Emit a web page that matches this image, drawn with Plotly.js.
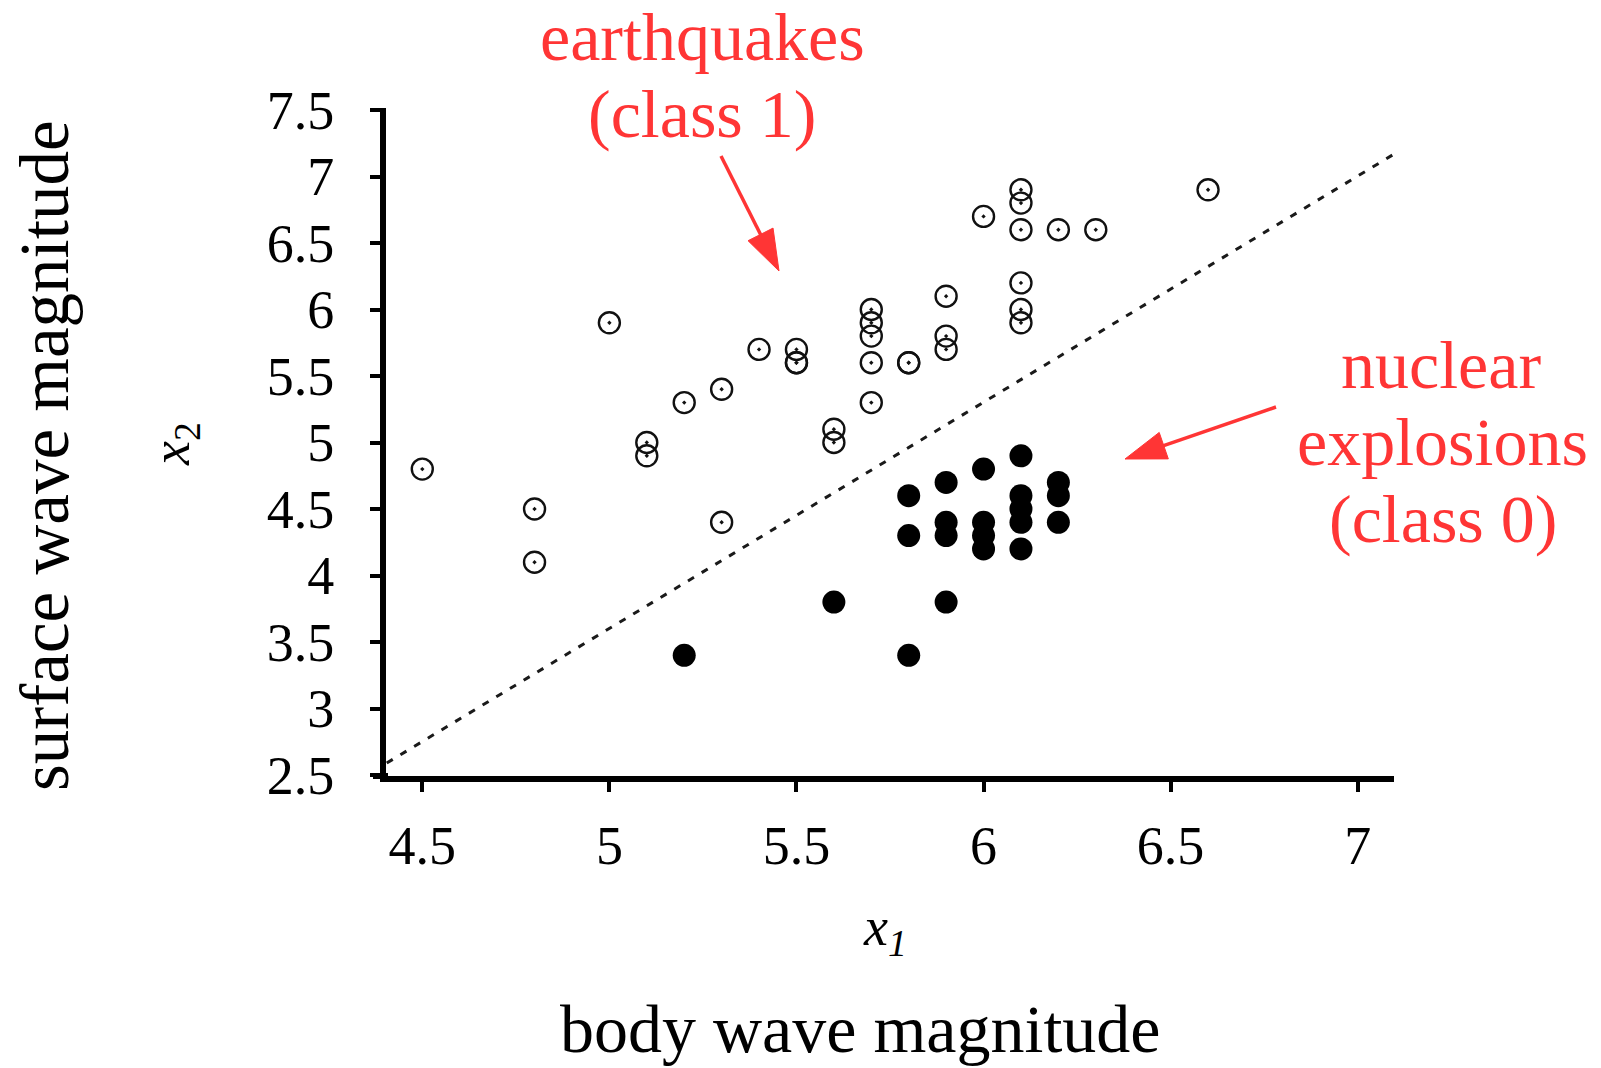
<!DOCTYPE html>
<html>
<head>
<meta charset="utf-8">
<script src="https://cdn.plot.ly/plotly-3.0.1.min.js"></script>
<style>
  html, body { margin: 0; padding: 0; background: #ffffff; }
  #chart { width: 1601px; height: 1068px; }
</style>
</head>
<body>
<div id="chart"></div>
<script>
// ---- data ----
// earthquakes (class 1): open circles
const quakeX = [4.5, 4.8, 4.8, 5.0, 5.1, 5.1, 5.2, 5.3, 5.3, 5.4, 5.5, 5.5, 5.5,
                5.6, 5.6, 5.7, 5.7, 5.7, 5.7, 5.7, 5.8, 5.8, 5.9, 5.9, 5.9,
                6.0, 6.1, 6.1, 6.1, 6.1, 6.1, 6.1, 6.2, 6.3, 6.6];
const quakeY = [4.8, 4.5, 4.1, 5.9, 5.0, 4.9, 5.3, 5.4, 4.4, 5.7, 5.7, 5.6, 5.6,
                5.1, 5.0, 6.0, 5.9, 5.8, 5.6, 5.3, 5.6, 5.6, 6.1, 5.8, 5.7,
                6.7, 6.9, 6.8, 6.6, 6.2, 6.0, 5.9, 6.6, 6.6, 6.9];
// nuclear explosions (class 0): filled dots
const blastX = [5.2, 5.6, 5.8, 5.9, 5.8, 5.8, 5.9, 5.9, 5.9, 6.0, 6.0, 6.0, 6.0,
                6.1, 6.1, 6.1, 6.1, 6.1, 6.2, 6.2, 6.2];
const blastY = [3.4, 3.8, 3.4, 3.8, 4.6, 4.3, 4.7, 4.4, 4.3, 4.8, 4.4, 4.3, 4.2,
                4.9, 4.6, 4.5, 4.4, 4.2, 4.7, 4.6, 4.4];
// separating line (dashed)
const boundaryX = [4.405, 7.098];
const boundaryY = [2.59, 7.17];
// tick labels
const xTickVals = [4.5, 5, 5.5, 6, 6.5, 7];
const xTickText = ["4.5", "5", "5.5", "6", "6.5", "7"];
const yTickVals = [2.5, 3, 3.5, 4, 4.5, 5, 5.5, 6, 6.5, 7, 7.5];
const yTickText = ["2.5", "3", "3.5", "4", "4.5", "5", "5.5", "6", "6.5", "7", "7.5"];

// ---- layout geometry (pixels) ----
const W = 1601, H = 1068;
const M = { l: 386, r: 207, t: 108, b: 292 };
const PW = W - M.l - M.r, PH = H - M.t - M.b;
const px = x => (x - M.l) / PW;
const py = y => (H - M.b - y) / PH;

const SERIF = "Liberation Serif, Times New Roman, serif";
const RED = "#ff3535";

const traces = [
  {
    x: boundaryX, y: boundaryY, type: "scatter", mode: "lines",
    line: { color: "#1a1a1a", width: 3, dash: "7px,9px" },
    hoverinfo: "skip", showlegend: false
  },
  {
    x: quakeX, y: quakeY, type: "scatter", mode: "markers", name: "earthquakes (class 1)",
    marker: { symbol: "circle-open-dot", size: 21, color: "#111111", line: { width: 2.4, color: "#111111" } },
    showlegend: false
  },
  {
    x: blastX, y: blastY, type: "scatter", mode: "markers", name: "nuclear explosions (class 0)",
    marker: { symbol: "circle", size: 23, color: "#000000", line: { width: 0 } },
    showlegend: false
  }
];

function ann(text, cx, cy, size, color, angle) {
  return {
    xref: "paper", yref: "paper", x: px(cx), y: py(cy),
    xanchor: "center", yanchor: "middle",
    text: text, showarrow: false, textangle: angle || 0,
    font: { family: SERIF, size: size, color: color }
  };
}

function arrowShapes(x0, y0, xt, yt) {
  const dx = xt - x0, dy = yt - y0, len = Math.hypot(dx, dy);
  const ux = dx / len, uy = dy / len, nx = -uy, ny = ux;
  const headLen = 41, halfW = 14;
  const bx = xt - ux * headLen, by = yt - uy * headLen;
  const c1x = bx + nx * halfW, c1y = by + ny * halfW;
  const c2x = bx - nx * halfW, c2y = by - ny * halfW;
  return [
    { type: "line", xref: "paper", yref: "paper",
      x0: px(x0), y0: py(y0), x1: px(bx + ux * 4), y1: py(by + uy * 4),
      line: { color: RED, width: 3.5 } },
    { type: "path", xref: "paper", yref: "paper",
      path: `M ${px(xt)} ${py(yt)} L ${px(c1x)} ${py(c1y)} L ${px(c2x)} ${py(c2y)} Z`,
      fillcolor: RED, line: { color: RED, width: 1 } }
  ];
}

const layout = {
  width: W, height: H,
  margin: M,
  paper_bgcolor: "#ffffff", plot_bgcolor: "#ffffff",
  showlegend: false, hovermode: false,
  font: { family: SERIF, color: "#000000" },
  xaxis: {
    range: [4.403, 7.097], showgrid: false, zeroline: false,
    showline: true, linewidth: 6, linecolor: "#000000",
    ticks: "outside", ticklen: 10, tickwidth: 4, tickcolor: "#000000",
    tickvals: xTickVals, ticktext: xTickText, ticklabelstandoff: 7,
    tickfont: { family: SERIF, size: 54, color: "#000000" }
  },
  yaxis: {
    range: [2.4925, 7.515], showgrid: false, zeroline: false,
    showline: true, linewidth: 6, linecolor: "#000000",
    ticks: "outside", ticklen: 10, tickwidth: 4, tickcolor: "#000000",
    tickvals: yTickVals, ticktext: yTickText, ticklabelstandoff: 25,
    tickfont: { family: SERIF, size: 54, color: "#000000" }
  },
  annotations: [
    ann("earthquakes", 702, 37, 68, RED),
    ann("(class 1)", 702, 114, 68, RED),
    ann("nuclear", 1441, 365, 68, RED),
    ann("explosions", 1442, 442, 68, RED),
    ann("(class 0)", 1443, 519, 68, RED),
    ann("body wave magnitude", 860, 1029, 68, "#000000"),
    ann("surface wave magnitude", 45, 456, 69, "#000000", -90),
    ann("<i>x</i><sub><i>1</i></sub>", 885, 930, 54, "#000000"),
    ann("<i>x</i><sub>2</sub>", 174, 444, 54, "#000000", -90)
  ],
  shapes: [
    { type: "line", xref: "paper", yref: "paper", x0: px(373), x1: px(388), y0: 0, y1: 0,
      line: { color: "#000000", width: 6 } },
    ...arrowShapes(721, 156, 779, 271),
    ...arrowShapes(1276, 407, 1125, 459)
  ]
};

Plotly.newPlot("chart", traces, layout, { staticPlot: true, displayModeBar: false });
</script>
</body>
</html>
